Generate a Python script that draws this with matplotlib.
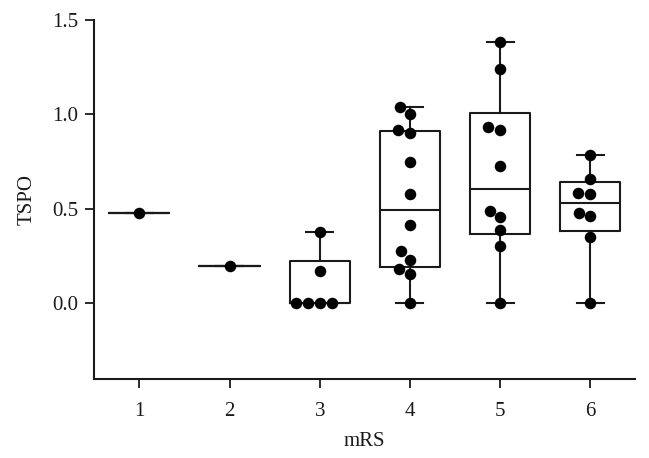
#!/usr/bin/env python3
import matplotlib
matplotlib.use("Agg")
import matplotlib.pyplot as plt
import numpy as np
import pandas as pd
import seaborn as sns

# TSPO values, one list per mRS grade
mrs_labels = ["1", "2", "3", "4", "5", "6"]
tspo_1 = [0.48]
tspo_2 = [0.20]
tspo_3 = [0.0, 0.0, 0.0, 0.0, 0.17, 0.38]
tspo_4 = [0.0, 0.158, 0.183, 0.232, 0.275, 0.414, 0.577, 0.746,
          0.901, 0.919, 1.002, 1.039]
tspo_5 = [0.0, 0.303, 0.386, 0.458, 0.491, 0.725, 0.919, 0.933,
          1.24, 1.382]
tspo_6 = [0.0, 0.354, 0.463, 0.481, 0.579, 0.583, 0.660, 0.783]
groups = [tspo_1, tspo_2, tspo_3, tspo_4, tspo_5, tspo_6]


def box_stats(vals, label):
    # quartiles as (n+1)p, whiskers min to max
    v = np.asarray(vals, dtype=float)
    q1, med, q3 = np.percentile(v, [25, 50, 75], method="weibull")
    return {"med": med, "q1": q1, "q3": q3,
            "whislo": v.min(), "whishi": v.max(), "fliers": [],
            "label": label}


def main():
    plt.rcParams["font.family"] = ["Liberation Serif", "DejaVu Serif"]
    fig = plt.figure(figsize=(6.49, 4.58), dpi=100)
    ax = fig.add_axes([0.1453, 0.1725, 0.8337, 0.7838])

    stats = [box_stats(g, l) for g, l in zip(groups, mrs_labels)]
    line = dict(color="#1a1a1a", linewidth=1.5)
    ax.bxp(stats, positions=range(len(groups)), widths=0.667,
           showfliers=False, boxprops=line, whiskerprops=line,
           capprops=line, medianprops=line, capwidths=0.3,
           manage_ticks=False, zorder=2)

    df = pd.DataFrame({
        "mrs": [l for l, g in zip(mrs_labels, groups) for _ in g],
        "tspo": [v for g in groups for v in g],
    })
    sns.swarmplot(data=df, x="mrs", y="tspo", order=mrs_labels,
                  color="black", size=8.3, linewidth=0, ax=ax, zorder=3)

    ax.set_xlim(-0.5, 5.5)
    ax.set_ylim(-0.4, 1.5)
    ax.set_yticks([0.0, 0.5, 1.0, 1.5])
    ax.set_yticklabels(["0.0", "0.5", "1.0", "1.5"])
    ax.set_xticks(range(len(mrs_labels)))
    ax.set_xticklabels(mrs_labels)
    ax.spines["top"].set_visible(False)
    ax.spines["right"].set_visible(False)
    ax.spines["left"].set_bounds(-0.4, 1.5)
    for s in ("left", "bottom"):
        ax.spines[s].set_linewidth(1.5)
        ax.spines[s].set_color("#1a1a1a")
    ax.tick_params(axis="both", length=6.5, width=1.3, color="#1a1a1a",
                   labelsize=15, labelcolor="#1a1a1a")
    ax.tick_params(axis="x", pad=10)
    ax.tick_params(axis="y", pad=5)
    ax.set_xlabel("mRS", fontsize=15, color="#1a1a1a", labelpad=8)
    ax.set_ylabel("TSPO", fontsize=15, color="#1a1a1a", labelpad=11)

    fig.savefig("out.png", dpi=100)


if __name__ == "__main__":
    main()
